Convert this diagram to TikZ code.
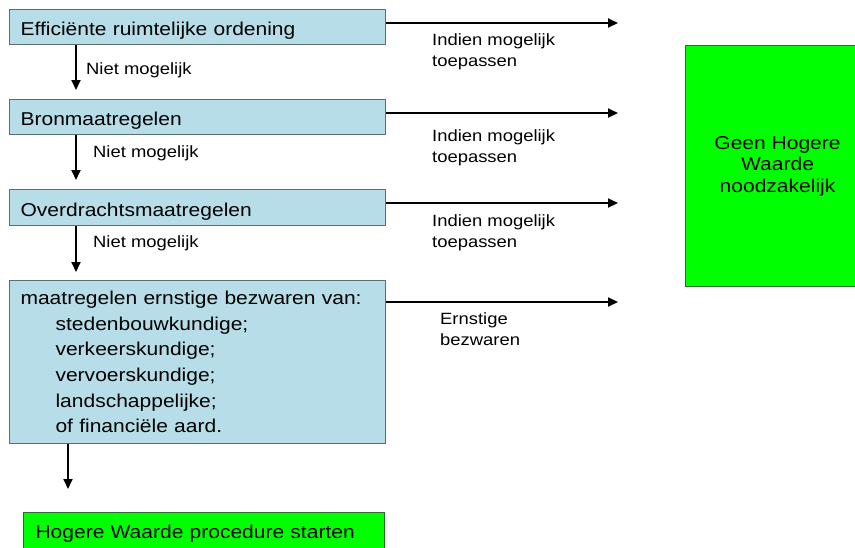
\documentclass[tikz,border=0pt]{standalone}
\usepackage{fontspec}
\setmainfont{Liberation Sans}[FakeStretch=1.13]
\usetikzlibrary{arrows.meta}
\definecolor{boxblue}{HTML}{B7DEE8}
\definecolor{boxedge}{HTML}{5E6E70}
\definecolor{brightgreen}{HTML}{00FF00}
\definecolor{greenedge}{HTML}{2E6B2E}
\newcommand\fmain{\fontsize{18.6pt}{25.7pt}\selectfont}
\newcommand\fgreen{\fontsize{18.6pt}{21.5pt}\selectfont}
\newcommand\flab{\fontsize{16.3pt}{20.5pt}\selectfont}
\begin{document}
\begin{tikzpicture}[x=1pt,y=-1pt,
  bluebox/.style={draw=boxedge, line width=1.1pt, fill=boxblue, anchor=north west,
    inner xsep=11pt, inner ysep=0pt, align=left, font=\fmain,
    minimum width=376pt, text width=354pt},
  oneline/.style={text height=17pt, text depth=0pt},
  greenbox/.style={draw=greenedge, line width=1.1pt, fill=brightgreen, inner ysep=0pt},
  lab/.style={anchor=west, align=left, font=\flab, inner sep=0pt},
  arr/.style={line width=1.9pt, -{Triangle[length=10pt,width=9pt]}}
]
\clip (0,0) rectangle (855,547);
\fill[white] (0,0) rectangle (855,547);

\node[bluebox, oneline, minimum height=35pt] (b1) at (9,9) {Efficiënte ruimtelijke ordening};
\node[bluebox, oneline, minimum height=35pt] (b2) at (9,99) {Bronmaatregelen};
\node[bluebox, oneline, minimum height=36pt] (b3) at (9,189) {Overdrachtsmaatregelen};
\node[bluebox, minimum height=163pt] (b4) at (9,280) {maatregelen ernstige bezwaren van:\\
\hspace*{35pt}stedenbouwkundige;\\
\hspace*{35pt}verkeerskundige;\\
\hspace*{35pt}vervoerskundige;\\
\hspace*{35pt}landschappelijke;\\
\hspace*{35pt}of financiële aard.};

\node[greenbox, anchor=north west, minimum width=361pt, minimum height=40pt,
  inner xsep=12pt, text width=337pt, align=left, font=\fmain,
  text height=12pt, text depth=0pt] (g) at (23,512)
  {Hogere Waarde procedure starten};
\node[greenbox, anchor=north west, minimum width=184pt, minimum height=241pt,
  align=center, font=\fgreen] (gr) at (685,45) {Geen Hogere\\Waarde\\noodzakelijk};

% vertical arrows
\draw[arr, shorten >=9pt] ([xshift=67pt]b1.south west) -- ([xshift=67pt]b2.north west);
\draw[arr, shorten >=9pt] ([xshift=67pt]b2.south west) -- ([xshift=67pt]b3.north west);
\draw[arr, shorten >=8pt] ([xshift=67pt]b3.south west) -- ([xshift=67pt]b4.north west);
\coordinate (s4) at ([xshift=59pt]b4.south west);
\draw[arr, shorten >=23pt] (s4) -- (s4 |- g.north);

\node[lab] (n1) at (86,70) {Niet mogelijk};
\node[lab] (n2) at (93,153) {Niet mogelijk};
\node[lab] (n3) at (93,243) {Niet mogelijk};

% horizontal arrows
\coordinate (e1) at (618,23);
\coordinate (e2) at (618,113);
\coordinate (e3) at (618,203);
\coordinate (e4) at (618,302);
\draw[arr] (b1.east |- e1) -- (e1);
\draw[arr] (b2.east |- e2) -- (e2);
\draw[arr] (b3.east |- e3) -- (e3);
\draw[arr] (b4.east |- e4) -- (e4);

\node[lab] (t1) at (432,52) {Indien mogelijk\\toepassen};
\node[lab] (t2) at (432,148) {Indien mogelijk\\toepassen};
\node[lab] (t3) at (432,233) {Indien mogelijk\\toepassen};
\node[lab] (t4) at (440,329) {Ernstige\\bezwaren};
\end{tikzpicture}
\end{document}
